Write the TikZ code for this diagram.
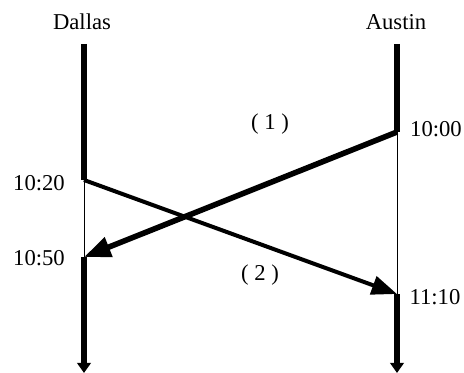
\documentclass[tikz,border=0pt]{standalone}
\usepackage{fontspec}
\setmainfont{Liberation Serif}
\usetikzlibrary{arrows.meta}
\begin{document}
\begin{tikzpicture}[x=0.75pt,y=-0.75pt,
  lbl/.style={font=\fontsize{17pt}{19pt}\selectfont, inner sep=0pt},
  axis/.style={line width=4pt},
  axisarrow/.style={line width=4pt, -{Triangle[length=7.5pt,width=10pt]}},
  idle/.style={line width=0.75pt},
  msgA/.style={line width=4.2pt, -{Triangle[length=20pt,width=15pt]}},
  msgB/.style={line width=3pt, -{Triangle[length=19pt,width=14pt]}}]
\useasboundingbox (0,0) rectangle (464,373);
% labels
\node[lbl] (dallas) at (82,22) {Dallas};
\node[lbl] (austin) at (396,22) {Austin};
% timeline points
\coordinate (dtop) at (84,44);
\coordinate (d1020) at (84,180);
\coordinate (d1050) at (84,257);
\coordinate (dbot) at (84,373);
\coordinate (atop) at (397,44);
\coordinate (a1000) at (397,132);
\coordinate (a1110) at (397,294);
\coordinate (abot) at (397,373);
% Dallas timeline
\draw[axis] (dtop) -- (d1020);
\draw[idle] (d1020) -- (d1050);
\draw[axisarrow] (d1050) -- (dbot);
% Austin timeline
\draw[axis] (atop) -- (a1000);
\draw[idle] (a1000) -- (a1110);
\draw[axisarrow] (a1110) -- (abot);
% messages
\draw[msgA] (a1000) -- (d1050);
\draw[msgB] (d1020) -- (a1110);
% time labels
\node[lbl] (t1000) at (436,129) {10:00};
\node[lbl] (t1020) at (39,183) {10:20};
\node[lbl] (t1050) at (39,258) {10:50};
\node[lbl] (t1110) at (435,297) {11:10};
\node[lbl] (m1) at (270,124) {( 1 )};
\node[lbl] (m2) at (260,275) {( 2 )};
\end{tikzpicture}
\end{document}
